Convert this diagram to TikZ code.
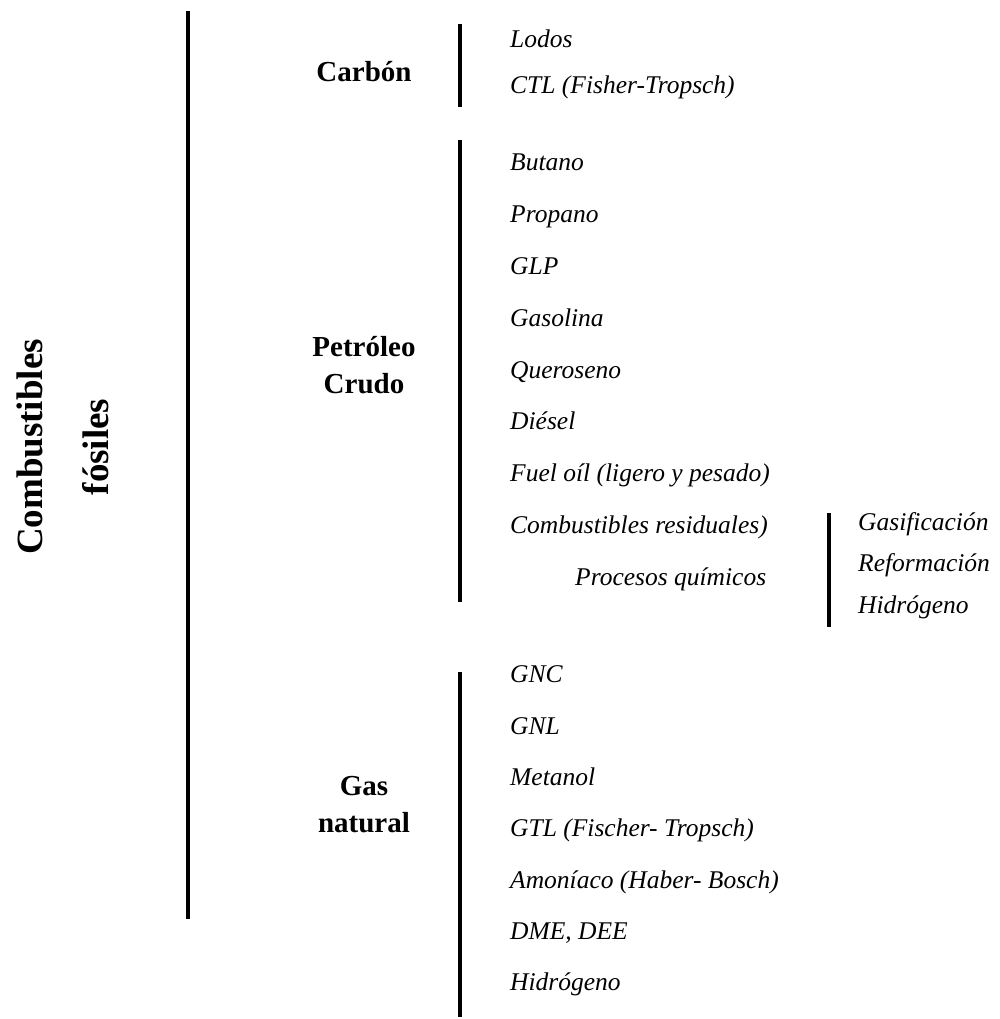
\documentclass[tikz,border=0pt]{standalone}
\usepackage{fontspec}
\setmainfont{Liberation Serif}
\begin{document}
\begin{tikzpicture}[x=1pt,y=-1pt,
  bar/.style={line width=3.8pt},
  item/.style={anchor=base west, inner sep=0pt, font=\fontsize{25.5}{30}\selectfont\itshape},
  group/.style={align=center, inner sep=0pt, font=\fontsize{29}{37}\selectfont\bfseries},
  title/.style={rotate=90, anchor=base, inner sep=0pt, font=\fontsize{37}{44}\selectfont\bfseries}]
\useasboundingbox (0,0) rectangle (1000,1019);

% title, set vertically
\node[title] (t1) at (42,447) {Combustibles};
\node[title] (t2) at (108,447) {fósiles};

% main bracket
\coordinate (m0) at (188,11);
\coordinate (m1) at (188,919);
\draw[bar] (m0) -- (m1);

% the three families
\node[group, anchor=base] (carbon) at (364,81.6) {Carbón};
\node[group] (petroleo) at (364,365.5) {Petróleo\\Crudo};
\node[group] (gas) at (364,805) {Gas\\natural};

% family brackets
\coordinate (c0) at (460,24);   \coordinate (c1) at (460,107);
\coordinate (p0) at (460,140);  \coordinate (p1) at (460,602);
\coordinate (g0) at (460,672);  \coordinate (g1) at (460,1017);
\draw[bar] (c0) -- (c1);
\draw[bar] (p0) -- (p1);
\draw[bar] (g0) -- (g1);

% coal products
\node[item] (cl1) at (510,47.4) {Lodos};
\node[item] (cl2) at (510,93.9) {CTL (Fisher-Tropsch)};

% crude oil products
\foreach \t [count=\i] in {Butano, Propano, GLP, Gasolina, Queroseno, Diésel,
    Fuel oíl (ligero y pesado), Combustibles residuales)}
  \node[item] (pe\i) at (510,{170.9+(\i-1)*51.8}) {\t};
\node[item] (proc) at (575,585.3) {Procesos químicos};

% chemical processes
\coordinate (s0) at (829,513);
\coordinate (s1) at (829,627);
\draw[bar] (s0) -- (s1);
\foreach \t [count=\i] in {Gasificación, Reformación, Hidrógeno}
  \node[item] (q\i) at (858,{530.4+(\i-1)*41.5}) {\t};

% natural gas products
\foreach \t [count=\i] in {GNC, GNL, Metanol, GTL (Fischer- Tropsch),
    Amoníaco (Haber- Bosch), {DME, DEE}, Hidrógeno}
  \node[item] (ga\i) at (510,{682.9+(\i-1)*51.3}) {\t};
\end{tikzpicture}
\end{document}
